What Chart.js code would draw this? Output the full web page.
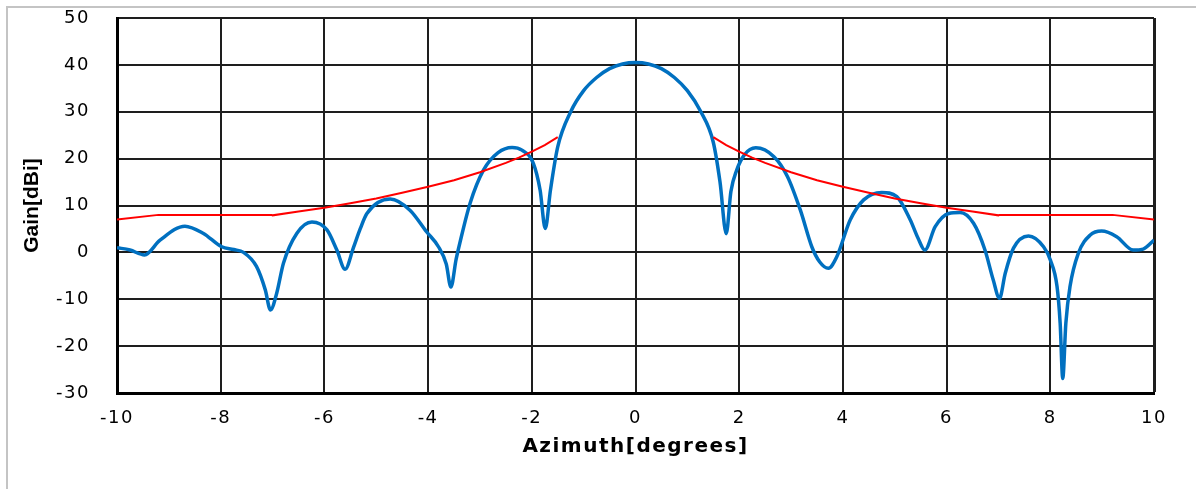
<!DOCTYPE html>
<html>
<head>
<meta charset="utf-8">
<script src="https://cdn.jsdelivr.net/npm/chart.js@4/dist/chart.umd.min.js"></script>
<style>
  html, body { margin: 0; padding: 0; background: #ffffff; }
  #wrap { position: relative; width: 1196px; height: 489px; overflow: hidden; background: #ffffff; }
  #frame { position: absolute; left: 6px; top: 6px; width: 1300px; height: 600px;
           border-left: 2px solid #c4c4c4; border-top: 2px solid #c4c4c4; }
  #c { position: absolute; left: 0; top: 0; }
</style>
</head>
<body>
<div id="wrap">
  <div id="frame"></div>
  <canvas id="c" width="1196" height="489"></canvas>
</div>
<script>
// Measured antenna pattern: azimuth (degrees) and gain (dBi)
const patternAz = [
  -10, -9.75, -9.47, -9.17, -8.69, -8.34, -7.98, -7.75, -7.56, -7.31, -7.14, -7.04, -6.92, -6.79,
  -6.53, -6.24, -5.95, -5.76, -5.60, -5.44, -5.31, -5.18, -4.73, -4.35, -4.03, -3.80, -3.65, -3.56,
  -3.46, -3.39, -3.19, -2.93, -2.65, -2.38, -2.19, -1.97, -1.84, -1.74, -1.64, -1.50, -1.25, -1.0,
  -0.75, -0.5, -0.25, 0, 0.25, 0.5, 0.75, 1.0, 1.25, 1.5, 1.63, 1.75, 1.84, 1.95, 2.1, 2.32, 2.67,
  2.93, 3.18, 3.40, 3.55, 3.72, 3.88, 4.14, 4.40, 4.75, 5.04, 5.30, 5.45, 5.58, 5.78, 6.04, 6.26,
  6.52, 6.74, 6.90, 7.02, 7.13, 7.29, 7.58, 7.87, 8.00, 8.13, 8.19, 8.24, 8.30, 8.38, 8.54, 8.77,
  8.99, 9.28, 9.60, 9.79, 10
];
const patternGain = [
  1.0, 0.5, -0.55, 2.6, 5.6, 4.1, 1.2, 0.6, 0.0, -3.0, -8.0, -12.3, -8.7, -2.3,
  4.1, 6.5, 4.8, 0.5, -3.6, 1.0, 5.0, 8.3, 11.4, 9.0, 4.4, 1.2, -2.5, -7.4,
  -1.5, 1.9, 10.5, 17.6, 21.3, 22.4, 21.8, 19.0, 13.3, 5.1, 13.3, 22.5, 30.0, 34.5,
  37.3, 39.2, 40.2, 40.5, 40.2, 39.2, 37.3, 34.5, 30.2, 23.5, 15.0, 4.0, 13.0, 17.5, 20.8, 22.3, 20.4,
  16.2, 9.0, 1.2, -2.0, -3.4, -1.0, 6.9, 11.2, 12.8, 11.9, 6.9, 3.0, 0.5, 5.5, 8.3, 8.5,
  6.2, 0.5, -5.9, -9.8, -4.5, 0.9, 3.5, 1.2, -1.6, -7.3, -15.1, -26.9, -15.1, -7.3, -0.2, 3.7,
  4.55, 3.35, 0.5, 0.7, 2.6
];

// Sidelobe envelope (mask); gap around boresight
const maskAz = [
  -10, -9.2, -7.02, -7, -6.5, -6, -5.5, -5, -4.5, -4, -3.5, -3, -2.5, -2.25, -2, -1.75, -1.5,
  0,
  1.5, 1.75, 2, 2.25, 2.5, 3, 3.5, 4, 4.5, 5, 5.5, 6, 6.5, 7, 7.02, 9.2, 10
];
const maskGain = [
  7.0, 8.0, 8.0, 7.9, 8.7, 9.5, 10.5, 11.5, 12.7, 14.0, 15.4, 17.1, 19.1, 20.2, 21.5, 22.9, 24.6,
  null,
  24.6, 22.9, 21.5, 20.2, 19.1, 17.1, 15.4, 14.0, 12.7, 11.5, 10.5, 9.5, 8.7, 7.9, 8.0, 8.0, 7.0
];

// Axis settings
const xTicks = { min: -10, max: 10, step: 2 };
const yTicks = { min: -30, max: 50, step: 10 };
const xTitle = 'Azimuth[degrees]';
const yTitle = 'Gain[dBi]';

const toPoints = (xs, ys) => xs.map((x, i) => ({ x: x, y: ys[i] }));

const gridColor = '#1e1e1e';
const tickFont = { family: 'DejaVu Sans', size: 18 };

// Wider lettering for tick labels and the x title; the y title keeps normal spacing
const spacingPlugin = {
  id: 'spacing',
  afterUpdate(chart) {
    const s = chart.scales.y;
    if (s && !s._plainTitle) {
      const orig = s.drawTitle.bind(s);
      s.drawTitle = function () {
        const ctx = this.ctx;
        const prev = ctx.letterSpacing;
        ctx.letterSpacing = '0px';
        orig();
        ctx.letterSpacing = prev;
      };
      s._plainTitle = true;
    }
  },
  beforeDraw(chart) { chart.ctx.letterSpacing = '1.5px'; },
  afterDraw(chart) { chart.ctx.letterSpacing = '0px'; }
};

new Chart(document.getElementById('c'), {
  type: 'line',
  data: {
    datasets: [
      {
        label: 'Mask',
        data: toPoints(maskAz, maskGain),
        borderColor: '#ff0000',
        borderWidth: 2,
        pointRadius: 0,
        spanGaps: false,
        tension: 0,
        order: 0
      },
      {
        label: 'Gain',
        data: toPoints(patternAz, patternGain),
        borderColor: '#0070c0',
        borderWidth: 3.5,
        pointRadius: 0,
        cubicInterpolationMode: 'monotone',
        order: 1
      }
    ]
  },
  plugins: [spacingPlugin],
  options: {
    responsive: false,
    devicePixelRatio: 1,
    animation: false,
    layout: { padding: { left: 0, top: 18, right: 42, bottom: 30 } },
    plugins: { legend: { display: false }, tooltip: { enabled: false } },
    scales: {
      x: {
        type: 'linear',
        min: xTicks.min,
        max: xTicks.max,
        afterFit: (s) => { s.height = 66; },
        ticks: { stepSize: xTicks.step, color: '#000', font: tickFont, padding: 15, maxRotation: 0 },
        grid: {
          color: gridColor,
          drawTicks: false,
          lineWidth: (ctx) => (ctx.index === 10 ? 3 : 2)
        },
        border: { color: '#000', width: 3 },
        title: {
          display: true,
          text: xTitle,
          color: '#000',
          font: { family: 'DejaVu Sans', size: 20, weight: 'bold' },
          padding: { top: 0, bottom: 0 }
        }
      },
      y: {
        type: 'linear',
        min: yTicks.min,
        max: yTicks.max,
        afterFit: (s) => { s.width = 117; s.paddingTop = 0; s.paddingBottom = 0; },
        ticks: { stepSize: yTicks.step, color: '#000', font: tickFont, padding: 27 },
        grid: {
          color: gridColor,
          drawTicks: false,
          lineWidth: 2
        },
        border: { color: '#000', width: 3 },
        title: {
          display: true,
          text: yTitle,
          color: '#000',
          font: { family: 'Liberation Sans Narrow, Liberation Sans', size: 21, weight: 'bold' },
          padding: { top: 20, bottom: 0 }
        }
      }
    }
  }
});
</script>
</body>
</html>
